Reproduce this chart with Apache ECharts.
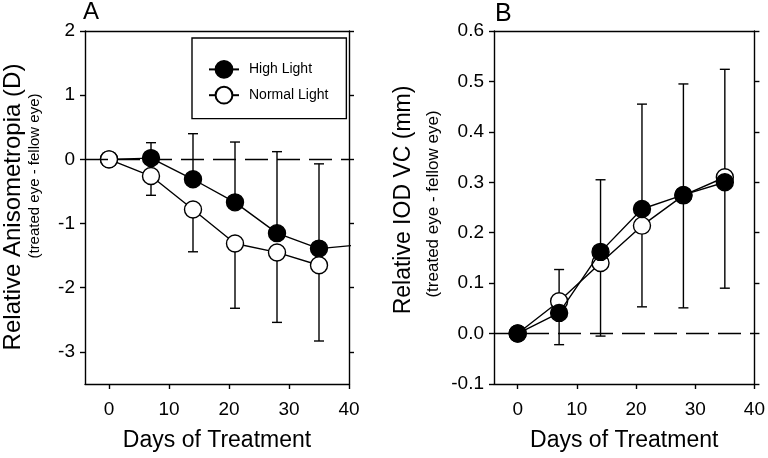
<!DOCTYPE html>
<html>

<head>
  <meta charset="UTF-8">
  <title>Anisometropia and IOD VC</title>
</head>

<body style="margin: 0;">
  <div id="main" style="width: 768px; height: 458px;"></div>
  <script src="https://cdn.jsdelivr.net/npm/echarts@6.0.0/dist/echarts.min.js"></script>
  <script>
    // Panel A: relative anisometropia (D)
    const daysA = [0, 7, 14, 21, 28, 35];
    // high light has one more point past day 40, it gets clipped by the axis
    const daysHighA = [0, 7, 14, 21, 28, 35, 42];
    const highA = [0, 0.02, -0.31, -0.67, -1.15, -1.39, -1.33];
    const normalA = [0, -0.26, -0.78, -1.31, -1.45, -1.65];
    const errDaysA = [7, 14, 21, 28, 35];
    const highAUpper = [0.26, 0.40, 0.27, 0.12, -0.07];
    const normalALower = [-0.56, -1.44, -2.32, -2.54, -2.83];

    // Panel B: relative IOD VC (mm)
    const daysB = [0, 7, 14, 21, 28, 35];
    const highB = [0, 0.041, 0.162, 0.247, 0.275, 0.30];
    const normalB = [0, 0.064, 0.14, 0.214, 0.274, 0.31];
    const errDaysB = [7, 14, 21, 28, 35];
    const highBUpper = [0.127, 0.305, 0.455, 0.495, 0.524];
    const normalBLower = [-0.022, -0.005, 0.053, 0.051, 0.09];

    const xTicks = [0, 10, 20, 30, 40];
    const yTicksA = [-3, -2, -1, 0, 1, 2];
    const yTicksB = [-0.1, 0, 0.1, 0.2, 0.3, 0.4, 0.5, 0.6];

    const FONT = "'Liberation Sans', Arial, sans-serif";
    const LW = 1.4;

    const pairs = (xs, ys) => xs.map((x, i) => [x, ys[i]]);
    const bars = (xs, from, to) => xs.map((x, i) => [x, from[i], to[i]]);

    function renderErrorBar(params, api) {
      const p0 = api.coord([api.value(0), api.value(1)]);
      const p1 = api.coord([api.value(0), api.value(2)]);
      const cap = 5;
      const style = { stroke: '#000', lineWidth: LW };
      return {
        type: 'group',
        children: [
          { type: 'line', shape: { x1: p0[0], y1: p0[1], x2: p1[0], y2: p1[1] }, style },
          { type: 'line', shape: { x1: p1[0] - cap, y1: p1[1], x2: p1[0] + cap, y2: p1[1] }, style }
        ]
      };
    }

    function xAxes(grid) {
      return [{
        gridIndex: grid,
        type: 'value',
        min: -4,
        max: 40,
        position: 'bottom',
        splitLine: { show: false },
        axisLine: { onZero: false, lineStyle: { color: '#000', width: LW } },
        axisTick: { customValues: xTicks, length: 5, lineStyle: { color: '#000', width: LW } },
        axisLabel: { customValues: xTicks, color: '#000', fontFamily: FONT, fontSize: 19, margin: 16 },
        name: 'Days of Treatment',
        nameLocation: 'middle',
        nameGap: 45,
        nameTextStyle: { color: '#000', fontFamily: FONT, fontSize: 23 }
      }, {
        gridIndex: grid,
        type: 'value',
        min: -4,
        max: 40,
        position: 'top',
        splitLine: { show: false },
        axisLine: { onZero: false, lineStyle: { color: '#000', width: LW } },
        axisTick: { show: false },
        axisLabel: { show: false }
      }];
    }

    function yAxes(grid, min, max, ticks, fmt) {
      return [{
        gridIndex: grid,
        type: 'value',
        min, max,
        position: 'left',
        splitLine: { show: false },
        axisLine: { onZero: false, lineStyle: { color: '#000', width: LW } },
        axisTick: { customValues: ticks, length: 5, lineStyle: { color: '#000', width: LW } },
        axisLabel: { customValues: ticks, formatter: fmt, color: '#000', fontFamily: FONT, fontSize: 19, margin: 10 }
      }, {
        gridIndex: grid,
        type: 'value',
        min, max,
        position: 'right',
        splitLine: { show: false },
        axisLine: { onZero: false, lineStyle: { color: '#000', width: LW } },
        axisTick: { customValues: ticks, length: 5, lineStyle: { color: '#000', width: LW } },
        axisLabel: { show: false }
      }];
    }

    const zeroLine = {
      silent: true,
      symbol: 'none',
      label: { show: false },
      lineStyle: { color: '#000', width: LW, type: [23, 9] },
      data: [{ yAxis: 0 }]
    };

    const filled = { color: '#000', borderColor: '#000', borderWidth: LW };
    const open = { color: '#fff', borderColor: '#000', borderWidth: LW };

    const titleStyle = (text, size) => ({
      text, fontSize: size, fontFamily: FONT, fill: '#000', align: 'center', verticalAlign: 'middle'
    });

    const chart = echarts.init(document.getElementById('main'));
    chart.setOption({
      animation: false,
      grid: [
        { left: 85, top: 31, width: 264, height: 353 },
        { left: 494, top: 31, width: 264, height: 353 }
      ],
      xAxis: [...xAxes(0), ...xAxes(1)],
      yAxis: [
        ...yAxes(0, -3.5, 2, yTicksA, v => String(v)),
        ...yAxes(1, -0.1, 0.6, yTicksB, v => v.toFixed(1))
      ],
      legend: {
        data: ['High Light', 'Normal Light'],
        orient: 'vertical',
        left: 192,
        top: 38,
        itemWidth: 30,
        itemHeight: 21,
        itemGap: 7,
        padding: [22, 18, 14, 16],
        borderColor: '#000',
        borderWidth: LW,
        backgroundColor: '#fff',
        textStyle: { color: '#000', fontFamily: FONT, fontSize: 14, padding: [0, 0, 0, 5] }
      },
      graphic: [
        { type: 'text', left: 83, top: 0, style: { text: 'A', fontSize: 24, fontFamily: FONT, fill: '#000' } },
        { type: 'text', left: 495, top: 2, style: { text: 'B', fontSize: 25, fontFamily: FONT, fill: '#000' } },
        { type: 'text', x: 13, y: 207, rotation: Math.PI / 2, style: titleStyle('Relative Anisometropia (D)', 24) },
        { type: 'text', x: 35, y: 176, rotation: Math.PI / 2, style: titleStyle('(treated eye - fellow eye)', 15) },
        { type: 'text', x: 404, y: 200, rotation: Math.PI / 2, style: titleStyle('Relative IOD VC (mm)', 23) },
        { type: 'text', x: 433, y: 204, rotation: Math.PI / 2, style: titleStyle('(treated eye - fellow eye)', 17) }
      ],
      series: [
        // panel A
        {
          type: 'custom', xAxisIndex: 0, yAxisIndex: 0, z: 1,
          encode: { x: 0, y: [1, 2] },
          renderItem: renderErrorBar,
          data: bars(errDaysA, highA.slice(1, 6), highAUpper)
        },
        {
          type: 'custom', xAxisIndex: 0, yAxisIndex: 0, z: 1,
          encode: { x: 0, y: [1, 2] },
          renderItem: renderErrorBar,
          data: bars(errDaysA, normalA.slice(1), normalALower),
          markLine: zeroLine
        },
        {
          name: 'High Light', type: 'line', xAxisIndex: 0, yAxisIndex: 0, z: 3,
          clip: true,
          symbol: 'circle', symbolSize: 17, showAllSymbol: true,
          lineStyle: { color: '#000', width: LW },
          itemStyle: filled,
          data: pairs(daysHighA, highA)
        },
        {
          name: 'Normal Light', type: 'line', xAxisIndex: 0, yAxisIndex: 0, z: 4,
          clip: true,
          symbol: 'circle', symbolSize: 17, showAllSymbol: true,
          lineStyle: { color: '#000', width: LW },
          itemStyle: open,
          data: pairs(daysA, normalA)
        },
        // panel B
        {
          type: 'custom', xAxisIndex: 2, yAxisIndex: 2, z: 1,
          encode: { x: 0, y: [1, 2] },
          renderItem: renderErrorBar,
          data: bars(errDaysB, highB.slice(1), highBUpper)
        },
        {
          type: 'custom', xAxisIndex: 2, yAxisIndex: 2, z: 1,
          encode: { x: 0, y: [1, 2] },
          renderItem: renderErrorBar,
          data: bars(errDaysB, normalB.slice(1), normalBLower),
          markLine: zeroLine
        },
        {
          name: 'Normal Light', type: 'line', xAxisIndex: 2, yAxisIndex: 2, z: 3,
          symbol: 'circle', symbolSize: 17, showAllSymbol: true,
          lineStyle: { color: '#000', width: LW },
          itemStyle: open,
          data: pairs(daysB, normalB)
        },
        {
          name: 'High Light', type: 'line', xAxisIndex: 2, yAxisIndex: 2, z: 4,
          symbol: 'circle', symbolSize: 17, showAllSymbol: true,
          lineStyle: { color: '#000', width: LW },
          itemStyle: filled,
          data: pairs(daysB, highB)
        }
      ]
    });
  </script>
</body>

</html>
